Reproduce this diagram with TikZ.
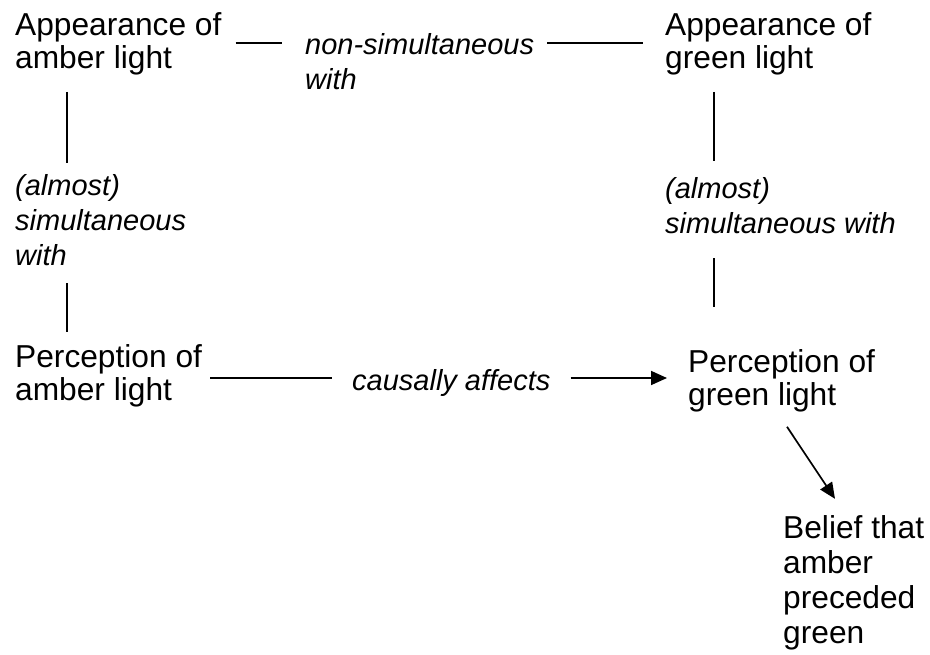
\documentclass[tikz,border=0pt]{standalone}
\usepackage{fontspec}
\setmainfont{Liberation Sans}
\usetikzlibrary{arrows.meta,calc}

\begin{document}
\begin{tikzpicture}[x=1pt,y=-1pt]
	\tikzstyle{event}=[anchor=base west,inner sep=0pt,align=left,font=\fontsize{31.7}{33}\selectfont]
	\tikzstyle{rel}=[anchor=base west,inner sep=0pt,align=left,font=\fontsize{29}{35}\selectfont\itshape]
	\tikzstyle{link}=[line width=1.7pt]
	\tikzstyle{arr}=[link,-{Triangle[length=16pt,width=14pt]}]
	\useasboundingbox (0,0) rectangle (930,654);
	% nodes sit on the baseline of their last line
	\node[event] (a1) at (15,68) {Appearance of\\amber light};
	\node[event] (a2) at (665,68) {Appearance of\\green light};
	\node[rel] (ns) at (305,89) {non-simultaneous\\with};
	\node[rel] (sl) at (15,265) {(almost)\\simultaneous\\with};
	\node[rel] (sr) at (665,233) {(almost)\\simultaneous with};
	\node[event] (p1) at (15,400) {Perception of\\amber light};
	\node[event] (p2) at (688,405) {Perception of\\green light};
	\node[rel] (ca) at (352,390) {causally affects};
	\node[event,font=\fontsize{31.7}{35}\selectfont] (b) at (783,643) {Belief that\\amber\\preceded\\green};
	% top row
	\draw[link,shorten <=14pt,shorten >=23pt] (a1.east |- 0,43) -- (ns.west |- 0,43);
	\draw[link,shorten <=13pt,shorten >=22pt] (ns.east |- 0,43) -- (a2.west |- 0,43);
	% left column
	\draw[link,shorten <=17pt,shorten >=11pt] (a1.south -| 67,0) -- (sl.north -| 67,0);
	\draw[link,shorten <=18pt,shorten >=12pt] (sl.south -| 67,0) -- (p1.north -| 67,0);
	% right column
	\draw[link,shorten <=17pt,shorten >=16pt] (a2.south -| 714,0) -- (sr.north -| 714,0);
	\draw[link,shorten <=25pt,shorten >=42pt] (sr.south -| 714,0) -- (p2.north -| 714,0);
	% bottom row
	\draw[link,shorten <=8pt,shorten >=20pt] (p1.east |- 0,378) -- (ca.west |- 0,378);
	\draw[arr,shorten <=20pt,shorten >=21pt] (ca.east |- 0,378) -- (p2.west |- 0,378);
	\draw[arr] ($(p2.south -| 787,0)+(0,15)$) -- ($(b.north -| 835,0)+(0,-16)$);
\end{tikzpicture}
\end{document}
